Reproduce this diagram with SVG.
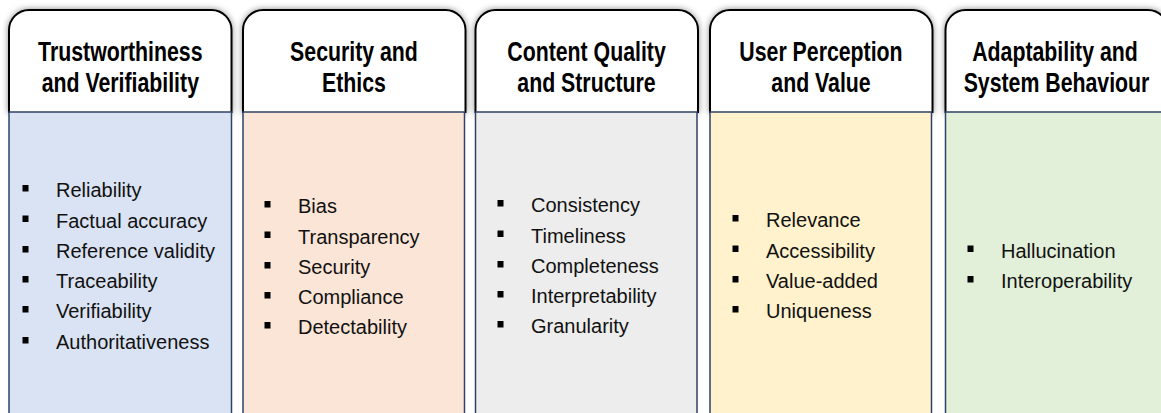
<svg xmlns="http://www.w3.org/2000/svg" width="1161" height="413" viewBox="0 0 1161 413">
  <defs>
    <filter id="hdrShadow" x="-10%" y="-20%" width="120%" height="140%">
      <feDropShadow dx="0" dy="0" stdDeviation="3" flood-color="#000" flood-opacity="0.45"/>
    </filter>
    <!-- rounded header card, origin at the column's top-left -->
    <path id="hdrShape" d="M0,113 V30 A20,20 0 0 1 20,10 H202.5 A20,20 0 0 1 222.5,30 V113"/>
  </defs>
  <style>
    .hdr { fill: #ffffff; stroke: #000000; stroke-width: 2; filter: url(#hdrShadow); }
    .body { stroke: #2E4168; stroke-width: 1.5; }
    .title { font-family: "Liberation Sans", Arial, sans-serif; font-weight: bold; font-size: 21.3px; fill: #000; text-anchor: middle; }
    .item { font-family: "Liberation Sans", Arial, sans-serif; font-size: 20px; fill: #111; }
    .bullet { fill: #000; }
  </style>

  <rect width="1161" height="413" fill="#ffffff"/>

  <!-- Column 1 -->
  <g id="col-trust">
    <use href="#hdrShape" class="hdr" transform="translate(9,0)"/>
    <rect class="body" x="9" y="112" width="222.5" height="320" fill="#DAE3F3"/>
    <text class="title" transform="translate(120.3,60.7) scale(1,1.3)">Trustworthiness</text>
    <text class="title" transform="translate(120.3,91.7) scale(1,1.3)">and Verifiability</text>
    <g class="bullet">
      <rect x="22.5" y="185" width="6" height="6.5"/>
      <rect x="22.5" y="215.5" width="6" height="6.5"/>
      <rect x="22.5" y="246" width="6" height="6.5"/>
      <rect x="22.5" y="276" width="6" height="6.5"/>
      <rect x="22.5" y="306" width="6" height="6.5"/>
      <rect x="22.5" y="337" width="6" height="6.5"/>
    </g>
    <text class="item" x="56" y="197">Reliability</text>
    <text class="item" x="56" y="227.5">Factual accuracy</text>
    <text class="item" x="56" y="258">Reference validity</text>
    <text class="item" x="56" y="288">Traceability</text>
    <text class="item" x="56" y="318">Verifiability</text>
    <text class="item" x="56" y="349">Authoritativeness</text>
  </g>

  <!-- Column 2 -->
  <g id="col-security">
    <use href="#hdrShape" class="hdr" transform="translate(243,0)"/>
    <rect class="body" x="243" y="112" width="221.5" height="320" fill="#FBE5D6"/>
    <text class="title" transform="translate(354,60.7) scale(1,1.3)">Security and</text>
    <text class="title" transform="translate(354,91.7) scale(1,1.3)">Ethics</text>
    <g class="bullet">
      <rect x="264.5" y="201" width="6" height="6.5"/>
      <rect x="264.5" y="231.5" width="6" height="6.5"/>
      <rect x="264.5" y="262" width="6" height="6.5"/>
      <rect x="264.5" y="292" width="6" height="6.5"/>
      <rect x="264.5" y="322" width="6" height="6.5"/>
    </g>
    <text class="item" x="298" y="213">Bias</text>
    <text class="item" x="298" y="243.5">Transparency</text>
    <text class="item" x="298" y="274">Security</text>
    <text class="item" x="298" y="304">Compliance</text>
    <text class="item" x="298" y="334">Detectability</text>
  </g>

  <!-- Column 3 -->
  <g id="col-content">
    <use href="#hdrShape" class="hdr" transform="translate(475.5,0)"/>
    <rect class="body" x="475.5" y="112" width="221.5" height="320" fill="#EDEDED"/>
    <text class="title" transform="translate(586.5,60.7) scale(1,1.3)">Content Quality</text>
    <text class="title" transform="translate(586.5,91.7) scale(1,1.3)">and Structure</text>
    <g class="bullet">
      <rect x="497.5" y="200" width="6" height="6.5"/>
      <rect x="497.5" y="230.5" width="6" height="6.5"/>
      <rect x="497.5" y="261" width="6" height="6.5"/>
      <rect x="497.5" y="291" width="6" height="6.5"/>
      <rect x="497.5" y="321" width="6" height="6.5"/>
    </g>
    <text class="item" x="531" y="212">Consistency</text>
    <text class="item" x="531" y="242.5">Timeliness</text>
    <text class="item" x="531" y="273">Completeness</text>
    <text class="item" x="531" y="303">Interpretability</text>
    <text class="item" x="531" y="333">Granularity</text>
  </g>

  <!-- Column 4 -->
  <g id="col-perception">
    <use href="#hdrShape" class="hdr" transform="translate(710,0)"/>
    <rect class="body" x="710" y="112" width="221.5" height="320" fill="#FFF2CC"/>
    <text class="title" transform="translate(821,60.7) scale(1,1.3)">User Perception</text>
    <text class="title" transform="translate(821,91.7) scale(1,1.3)">and Value</text>
    <g class="bullet">
      <rect x="732.5" y="215" width="6" height="6.5"/>
      <rect x="732.5" y="245.5" width="6" height="6.5"/>
      <rect x="732.5" y="276" width="6" height="6.5"/>
      <rect x="732.5" y="306" width="6" height="6.5"/>
    </g>
    <text class="item" x="766" y="227">Relevance</text>
    <text class="item" x="766" y="257.5">Accessibility</text>
    <text class="item" x="766" y="288">Value-added</text>
    <text class="item" x="766" y="318">Uniqueness</text>
  </g>

  <!-- Column 5 -->
  <g id="col-adaptability">
    <use href="#hdrShape" class="hdr" transform="translate(945.5,0)"/>
    <rect class="body" x="945.5" y="112" width="222.5" height="320" fill="#E2F0D9"/>
    <text class="title" transform="translate(1055,60.7) scale(1,1.3)">Adaptability and</text>
    <text class="title" transform="translate(1056.5,91.7) scale(1,1.3)">System Behaviour</text>
    <g class="bullet">
      <rect x="967.5" y="245.5" width="6" height="6.5"/>
      <rect x="967.5" y="276" width="6" height="6.5"/>
    </g>
    <text class="item" x="1001" y="257.5">Hallucination</text>
    <text class="item" x="1001" y="288">Interoperability</text>
  </g>

  <!-- no connectors in this layout -->
  <g id="connectors"/>
</svg>
